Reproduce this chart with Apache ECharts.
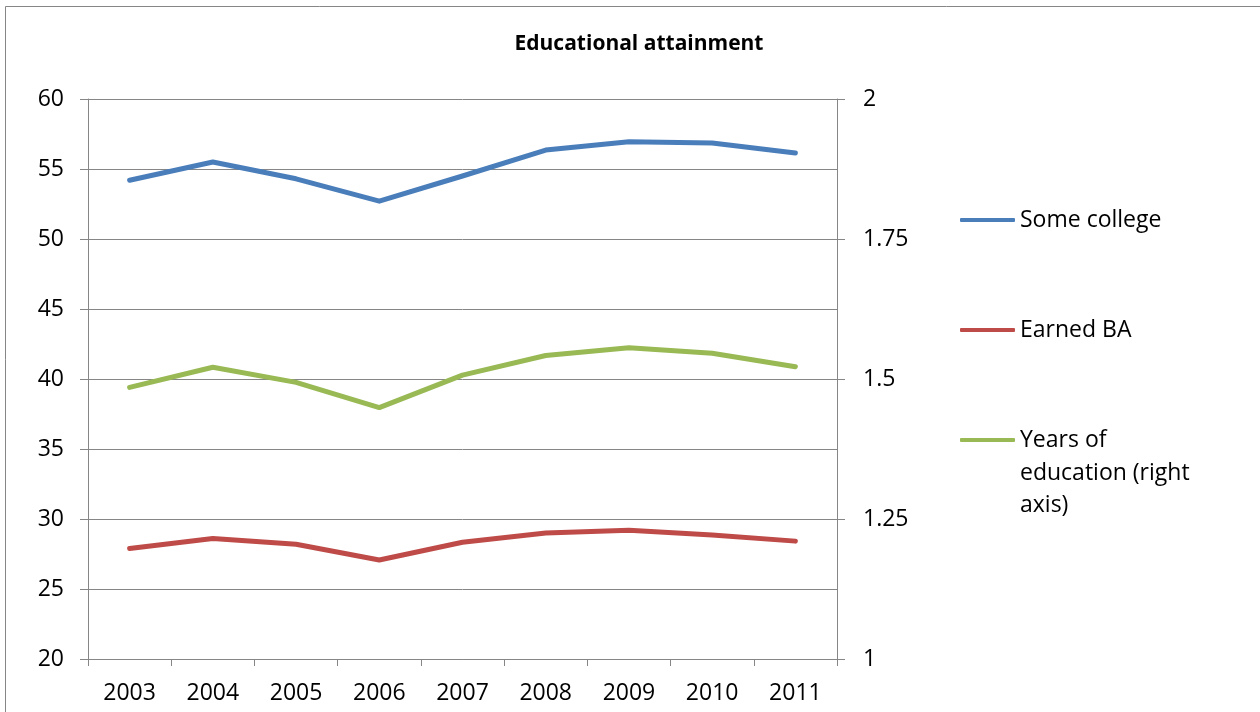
<!DOCTYPE html>
<html>
<head>
<meta charset="utf-8">
<script src="https://cdn.jsdelivr.net/npm/echarts@6/dist/echarts.min.js"></script>
<style>
html,body{margin:0;padding:0;background:#fff;}
#chart{width:1260px;height:712px;}
</style>
</head>
<body>
<div id="chart"></div>
<script>
var years = ['2003','2004','2005','2006','2007','2008','2009','2010','2011'];
var someCollege = [54.2, 55.5, 54.3, 52.7, 54.5, 56.35, 56.95, 56.85, 56.15];
var earnedBA = [27.9, 28.6, 28.2, 27.07, 28.34, 29.0, 29.2, 28.86, 28.42];
var yearsEdu = [1.485, 1.521, 1.494, 1.449, 1.507, 1.542, 1.556, 1.546, 1.522];
var seriesNames = ['Some college', 'Earned BA', 'Years of education (right axis)'];
var colors = ['#4a7ebb', '#be4b48', '#98b954'];

var FONT = 'Open Sans';
var GRAY = '#868686';
var FS = 23;
var chart = echarts.init(document.getElementById('chart'), null, {renderer: 'canvas'});

function lineSeries(name, data, color, yIdx) {
  return {
    name: name, type: 'line', data: data, yAxisIndex: yIdx,
    showSymbol: false, symbol: 'none', smooth: false,
    lineStyle: {color: color, width: 5, cap: 'round', join: 'round'},
    itemStyle: {color: color},
    animation: false
  };
}

chart.setOption({
  animation: false,
  backgroundColor: '#ffffff',
  title: {
    text: 'Educational attainment',
    left: 634, top: 29, textAlign: 'center',
    textStyle: {fontFamily: FONT, fontWeight: 'bold', fontSize: 21, color: '#000'}
  },
  legend: {
    orient: 'vertical', left: 960, top: 204, padding: 0,
    itemWidth: 55, itemHeight: 4, itemGap: 78,
    icon: 'roundRect',
    data: seriesNames,
    formatter: function (n) { return n === seriesNames[2] ? 'Years of' : n; },
    textStyle: {fontFamily: FONT, fontSize: FS, color: '#000', lineHeight: 32},
    selectedMode: false
  },
  graphic: [
    {type: 'rect', left: 3, top: 4, shape: {width: 1255, height: 740},
     style: {fill: 'none', stroke: GRAY, lineWidth: 1}, silent: true, z: -1},
    {type: 'text', left: 1020, top: 457,
     style: {text: 'education (right\naxis)', font: FS + 'px "Open Sans"', fill: '#000', lineHeight: 32}}
  ],
  grid: {left: 88, right: 423, top: 99, bottom: 53, containLabel: false},
  xAxis: {
    type: 'category', data: years, boundaryGap: true,
    axisLine: {lineStyle: {color: GRAY, width: 1}},
    axisTick: {show: true, length: 7, lineStyle: {color: GRAY}},
    axisLabel: {fontFamily: FONT, fontSize: FS, color: '#000', margin: 23},
    splitLine: {show: false}
  },
  yAxis: [
    {
      type: 'value', min: 20, max: 60, interval: 5, position: 'left',
      axisLine: {show: true, lineStyle: {color: GRAY, width: 1}},
      axisTick: {show: true, length: 8, lineStyle: {color: GRAY}},
      axisLabel: {fontFamily: FONT, fontSize: FS, color: '#000', margin: 24},
      splitLine: {show: true, lineStyle: {color: GRAY, width: 1}}
    },
    {
      type: 'value', min: 1, max: 2, interval: 0.25, position: 'right',
      axisLine: {show: true, lineStyle: {color: GRAY, width: 1}},
      axisTick: {show: true, length: 8, lineStyle: {color: GRAY}},
      axisLabel: {fontFamily: FONT, fontSize: FS, color: '#000', margin: 26},
      splitLine: {show: false}
    }
  ],
  series: [
    lineSeries(seriesNames[0], someCollege, colors[0], 0),
    lineSeries(seriesNames[1], earnedBA, colors[1], 0),
    lineSeries(seriesNames[2], yearsEdu, colors[2], 1)
  ]
});
</script>
</body>
</html>
